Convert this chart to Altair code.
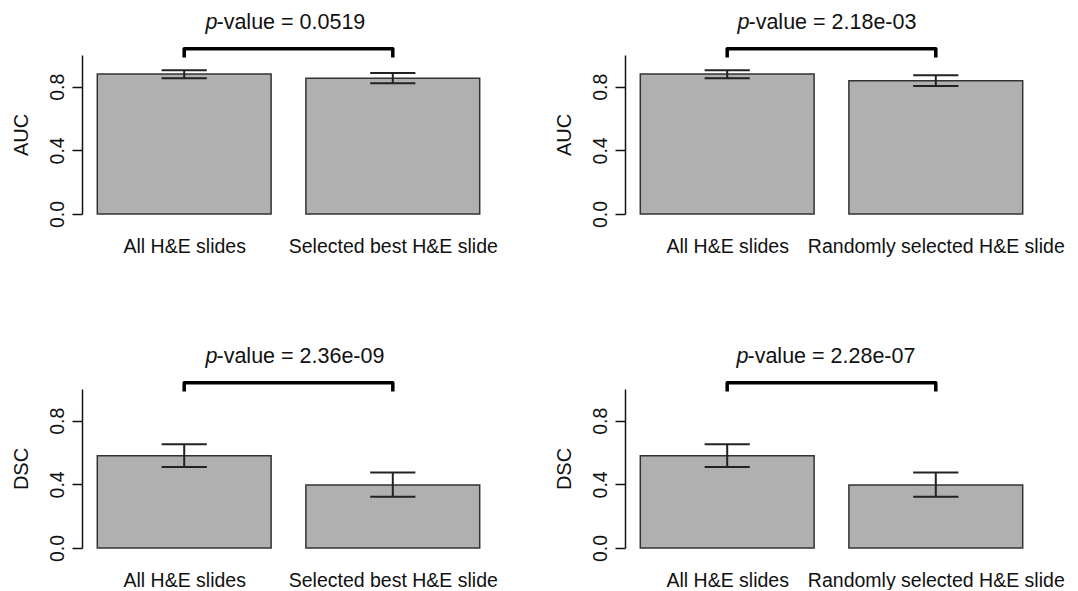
import altair as alt
import pandas as pd

# ---------------- data ----------------
metrics = ["AUC", "AUC", "DSC", "DSC"]
first_labels = ["All H&E slides", "All H&E slides", "All H&E slides", "All H&E slides"]
second_labels = ["Selected best H&E slide", "Randomly selected H&E slide",
                 "Selected best H&E slide", "Randomly selected H&E slide"]
means_all = [0.880, 0.880, 0.580, 0.580]
means_other = [0.853, 0.838, 0.396, 0.396]
lo_all = [0.854, 0.854, 0.509, 0.509]
hi_all = [0.904, 0.904, 0.653, 0.653]
lo_other = [0.822, 0.805, 0.323, 0.323]
hi_other = [0.887, 0.872, 0.475, 0.475]
p_values = ["0.0519", "2.18e-03", "2.36e-09", "2.28e-07"]
y_tick_values = [0.0, 0.2, 0.4, 0.6, 0.8, 1.0]

# ---------------- layout / style ----------------
BAR_W = 1.0
SPACE = 0.2
CAP = 0.13
BRACKET_TOP = 1.04
BRACKET_END = 0.985
PTEXT_Y = 1.165
P_DX = [-72, -83, -72, -84]
FILL = "#b0b0b0"
STROKE = "#333333"
AXFONT = "Liberation Sans"
PFONT = "Liberation Sans"
PFS = 21.5
PW, PH = 413, 159

lefts = [SPACE + i * (BAR_W + SPACE) for i in range(2)]
rights = [l + BAR_W for l in lefts]
centers = [l + BAR_W / 2 for l in lefts]
span = rights[-1] - lefts[0]
xdom = [lefts[0] - 0.04 * span, rights[-1] + 0.04 * span]


def panel(i):
    names = [first_labels[i], second_labels[i]]
    df = pd.DataFrame({
        "name": names,
        "left": lefts,
        "right": rights,
        "center": centers,
        "mean": [means_all[i], means_other[i]],
        "lo": [lo_all[i], lo_other[i]],
        "hi": [hi_all[i], hi_other[i]],
        "zero": [0.0, 0.0],
    })
    df["cl"] = df["center"] - CAP
    df["cr"] = df["center"] + CAP

    xs = alt.Scale(domain=xdom, nice=False, zero=False)
    ys = alt.Scale(domain=[0, 1], nice=False, zero=False)

    label_expr = f"datum.value < {sum(centers)/2} ? '{names[0]}' : '{names[1]}'"
    xaxis = alt.Axis(title=None, values=centers, labelExpr=label_expr, domain=False,
                     ticks=False, grid=False, labelFont=AXFONT, labelFontSize=19.5,
                     labelColor="#111111", labelBaseline="alphabetic", labelPadding=38,
                     labelLimit=600, labelOverlap=False, labelFlush=False, labelAlign="center")
    yaxis = alt.Axis(title=metrics[i], values=y_tick_values,
                     labelExpr="(abs(datum.value-0.2)<0.01 || abs(datum.value-0.6)<0.01 || datum.value>0.99) ? '' : format(datum.value, '.1f')",
                     grid=False, tickSize=10, tickWidth=1.5, tickColor="#111111",
                     domainColor="#111111", domainWidth=1.5,
                     labelFont=AXFONT, labelFontSize=19.5, labelColor="#111111",
                     labelAngle=270, labelAlign="center", labelBaseline="alphabetic",
                     labelPadding=9, labelOverlap=False, labelFlush=False,
                     titleFont=AXFONT, titleFontSize=20, titleFontWeight="normal",
                     titleColor="#111111", titleAngle=270, titleAlign="center",
                     titleBaseline="alphabetic", titleX=-55, titleY=PH / 2)

    base = alt.Chart(df)
    bars = base.mark_rect(fill=FILL, stroke=STROKE, strokeWidth=1.5).encode(
        x=alt.X("left:Q", scale=xs, axis=xaxis),
        x2="right:Q",
        y=alt.Y("mean:Q", scale=ys, axis=yaxis),
        y2="zero:Q",
    )
    stem = base.mark_rule(color="#222222", strokeWidth=2).encode(
        x="center:Q", y="lo:Q", y2="hi:Q")
    cap_lo = base.mark_rule(color="#222222", strokeWidth=2).encode(
        x="cl:Q", x2="cr:Q", y="lo:Q")
    cap_hi = base.mark_rule(color="#222222", strokeWidth=2).encode(
        x="cl:Q", x2="cr:Q", y="hi:Q")

    br = pd.DataFrame({
        "x": [centers[0], centers[0], centers[1], centers[1]],
        "y": [BRACKET_END, BRACKET_TOP, BRACKET_TOP, BRACKET_END],
        "o": [0, 1, 2, 3],
    })
    bracket = alt.Chart(br).mark_line(color="black", strokeWidth=3.5,
                                      strokeJoin="round", strokeCap="butt").encode(
        x="x:Q", y="y:Q", order="o:Q")

    tdf = pd.DataFrame({"x": [sum(centers) / 2], "y": [PTEXT_Y],
                        "p": ["p"], "rest": ["-value = " + p_values[i]]})
    tp = alt.Chart(tdf).mark_text(font=PFONT, fontSize=PFS, fontStyle="italic",
                                  align="right", baseline="alphabetic", dx=P_DX[i] + 1,
                                  color="#111111").encode(x="x:Q", y="y:Q", text="p:N")
    tr = alt.Chart(tdf).mark_text(font=PFONT, fontSize=PFS, align="left",
                                  baseline="alphabetic", dx=P_DX[i],
                                  color="#111111").encode(x="x:Q", y="y:Q", text="rest:N")

    return alt.layer(bars, stem, cap_lo, cap_hi, bracket, tp, tr).properties(
        width=PW, height=PH)


row1 = alt.hconcat(panel(0), panel(1), spacing=56)
row2 = alt.hconcat(panel(2), panel(3), spacing=56)
chart = alt.vconcat(row1, row2, spacing=89).properties(
    padding={"left": 3, "top": 3, "right": 0, "bottom": 0}
).configure(background="white").configure_view(stroke=None)

chart.save("out.html", embed_options={"renderer": "svg", "actions": False})
